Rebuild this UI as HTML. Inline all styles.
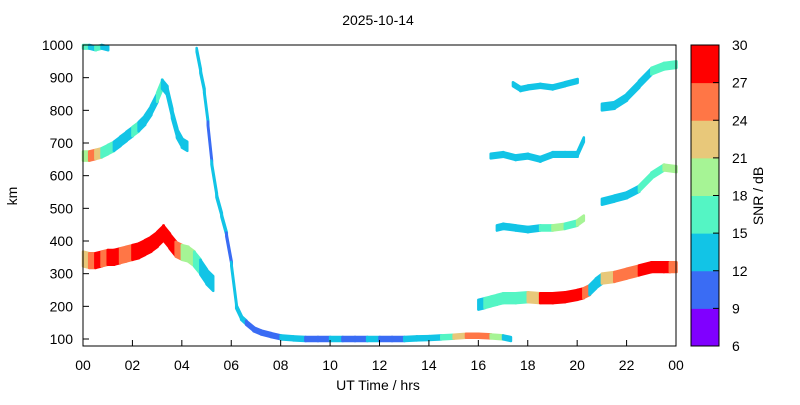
<!DOCTYPE html>
<html><head><meta charset="utf-8">
<style>
body{margin:0;background:#fff;font-family:"Liberation Sans",sans-serif;}
svg text{font-family:"Liberation Sans",sans-serif;font-size:14px;fill:#000;}
</style></head>
<body>
<svg id="chart" width="800" height="400" xmlns="http://www.w3.org/2000/svg">
<rect width="800" height="400" fill="#fff"/>
<text x="378" y="25" text-anchor="middle">2025-10-14</text>
<g id="marks"></g>
<rect x="83" y="45" width="593" height="301" fill="none" stroke="#000" stroke-width="1"/>
<g id="axes"></g>
<text x="378" y="390" text-anchor="middle">UT Time / hrs</text>
<text transform="translate(17,196) rotate(-90)" text-anchor="middle">km</text>
<g id="cbar"></g>
<text transform="translate(763,196) rotate(-90)" text-anchor="middle">SNR / dB</text>
</svg>
<script>
const xTicks=["00","02","04","06","08","10","12","14","16","18","20","22","00"];
const yTicks=[100,200,300,400,500,600,700,800,900,1000];
const cbTicks=[6,9,12,15,18,21,24,27,30];
const cbColors=["#8000ff","#3a6cf4","#12c4e6","#54f5c4","#a6f495","#e8c87a","#ff7646","#ff0000"];
// traces: times (h), heights (km), snr (dB), thickness (km)
const t1=[0,0.25,0.5,0.75,1,1.25,1.5,1.75,2,2.25,2.5,2.75,3,3.25,3.5,3.75,4,4.25,4.5,4.75,5,5.25];
const h1=[345,340,340,345,350,350,355,360,365,370,380,390,405,425,400,375,365,360,345,320,290,270];
const s1=[22,26,28,26,28,27,26,25,27,28,28,28,29,29,27,24,20,18,15,14,12,11];
const th1=45;
const t2=[0,0.25,0.5,0.75,1,1.25,1.5,1.75,2,2.25,2.5,2.75,3,3.2,3.4,3.6,3.8,4,4.2];
const h2=[660,660,665,670,680,690,705,720,735,750,770,800,840,880,860,790,730,700,690];
const s2=[20,24,22,16,15,14,14,14,16,14,13,13,15,14,14,13,12,12,11];
const th2=28;
const t3=[0,0.25,0.5,0.75,1];
const h3=[995,995,990,995,990];
const s3=[15,12,15,12,12];
const th3=12;
const t8=[4.6,4.75,4.9,5.05,5.2,5.4,5.6,5.8,6,6.2,6.4,6.6,6.9,7.2,7.6,8,8.5,9,9.5,10,10.5,11,11.5,12,12.5,13,13.5,14,14.5,15,15.5,16,16.5,17,17.3];
const h8=[985,920,860,760,640,540,480,420,330,200,165,150,130,120,112,105,102,100,100,100,100,100,100,100,100,100,102,103,105,107,110,110,108,105,100];
const s8=[12,12,12,11,12,14,12,11,12,13,12,11,11,10,11,12,12,11,11,12,11,11,12,11,11,12,12,13,15,22,25,24,18,13,12];
const th8=12;
const t4=[16,16.25,16.5,16.75,17,17.5,18,18.5,19,19.5,20,20.25,20.5,20.75,21,21.5,22,22.5,23,23.5,23.75,24];
const h4=[205,210,215,220,225,225,228,225,225,228,235,240,250,270,285,290,300,310,320,320,320,320];
const s4=[13,15,16,15,15,16,22,28,27,28,27,24,13,12,22,24,26,28,28,28,26,26];
const th4=30;
const t5=[16.75,17,17.5,18,18.5,19,19.5,20,20.25];
const h5=[440,445,440,435,440,440,445,455,470];
const s5=[12,13,14,14,17,20,15,18,25];
const th5=16;
const t9=[21,21.5,22,22.5,23,23.5,24];
const h9=[520,530,540,560,600,625,620];
const s9=[13,12,14,15,16,20,18];
const th9=18;
const t6=[16.5,17,17.5,18,18.5,19,19.5,20,20.25];
const h6=[660,665,655,660,650,665,665,665,710];
const s6=[12,12,12,14,14,13,13,12,13];
const th6=14;
const t10=[21,21.5,22,22.5,23,23.5,24];
const h10=[810,815,840,880,920,935,940];
const s10=[12,12,13,13,15,16,14];
const th10=20;
const t7=[17.4,17.7,18,18.5,19,19.5,20];
const h7=[880,865,870,875,870,880,890];
const s7=[12,12,12,13,13,14,13];
const th7=12;
const traces=[[t1,h1,s1,th1],[t2,h2,s2,th2],[t3,h3,s3,th3],[t8,h8,s8,th8],[t4,h4,s4,th4],[t5,h5,s5,th5],[t9,h9,s9,th9],[t6,h6,s6,th6],[t10,h10,s10,th10],[t7,h7,s7,th7]];
const NS="http://www.w3.org/2000/svg";
const X0=83,X1=676,Y0=346,Y1=45,KMIN=78.6,KMAX=1000;
const xs=t=>X0+(t/24)*(X1-X0);
const ys=k=>Math.max(Y1,Math.min(Y0,Y0-(k-KMIN)/(KMAX-KMIN)*(Y0-Y1)));
const col=s=>cbColors[Math.max(0,Math.min(7,Math.floor((s-6)/3)))];
const marks=document.getElementById('marks');
traces.forEach(tr=>{
  const [ts,hs,ss,th]=tr;
  for(let i=0;i<ts.length-1;i++){
    const xa=xs(ts[i]),xb=xs(ts[i+1]);
    const pts=[[xa,ys(hs[i]+th/2)],[xb+0.5,ys(hs[i+1]+th/2)],[xb+0.5,ys(hs[i+1]-th/2)],[xa,ys(hs[i]-th/2)]];
    const p=document.createElementNS(NS,'polygon');
    p.setAttribute('points',pts.map(q=>q.join(',')).join(' '));
    p.setAttribute('fill',col(ss[i]));
    p.setAttribute('stroke',col(ss[i]));
    p.setAttribute('stroke-width','2.5');
    p.setAttribute('stroke-linejoin','round');
    
    
    marks.appendChild(p);
  }
});
const axes=document.getElementById('axes');
xTicks.forEach((lab,i)=>{
  const x=X0+i*(X1-X0)/12;
  const l=document.createElementNS(NS,'line');
  l.setAttribute('x1',x);l.setAttribute('x2',x);l.setAttribute('y1',Y0);l.setAttribute('y2',Y0-6);l.setAttribute('stroke','#000');
  
  
  axes.appendChild(l);
  const t=document.createElementNS(NS,'text');
  t.setAttribute('x',x);t.setAttribute('y',370);t.setAttribute('text-anchor','middle');t.textContent=lab;
  
  
  axes.appendChild(t);
});
yTicks.forEach(v=>{
  const y=ys(v);
  const l=document.createElementNS(NS,'line');
  l.setAttribute('x1',X0);l.setAttribute('x2',X0+6);l.setAttribute('y1',y);l.setAttribute('y2',y);l.setAttribute('stroke','#000');
  
  
  axes.appendChild(l);
  const t=document.createElementNS(NS,'text');
  t.setAttribute('x',73);t.setAttribute('y',y+5);t.setAttribute('text-anchor','end');t.textContent=v;
  
  
  axes.appendChild(t);
});
const cb=document.getElementById('cbar');
const CB0=346,CB1=45,bh=(CB0-CB1)/8;
cbColors.forEach((c,i)=>{
  const r=document.createElementNS(NS,'rect');
  r.setAttribute('x',691);r.setAttribute('y',CB0-(i+1)*bh);r.setAttribute('width',28);r.setAttribute('height',bh+0.5);r.setAttribute('fill',c);
  
  
  cb.appendChild(r);
});
const fr=document.createElementNS(NS,'rect');
fr.setAttribute('x',691);fr.setAttribute('y',CB1);fr.setAttribute('width',28);fr.setAttribute('height',CB0-CB1);fr.setAttribute('fill','none');fr.setAttribute('stroke','#000');


cb.appendChild(fr);
cbTicks.forEach((v,i)=>{
  const y=CB0-i*bh;
  const l=document.createElementNS(NS,'line');
  l.setAttribute('x1',713);l.setAttribute('x2',719);l.setAttribute('y1',y);l.setAttribute('y2',y);l.setAttribute('stroke','#000');
  
  
  cb.appendChild(l);
  const t=document.createElementNS(NS,'text');
  t.setAttribute('x',732);t.setAttribute('y',y+5);t.textContent=v;
  
  
  cb.appendChild(t);
});
</script>
</body></html>
